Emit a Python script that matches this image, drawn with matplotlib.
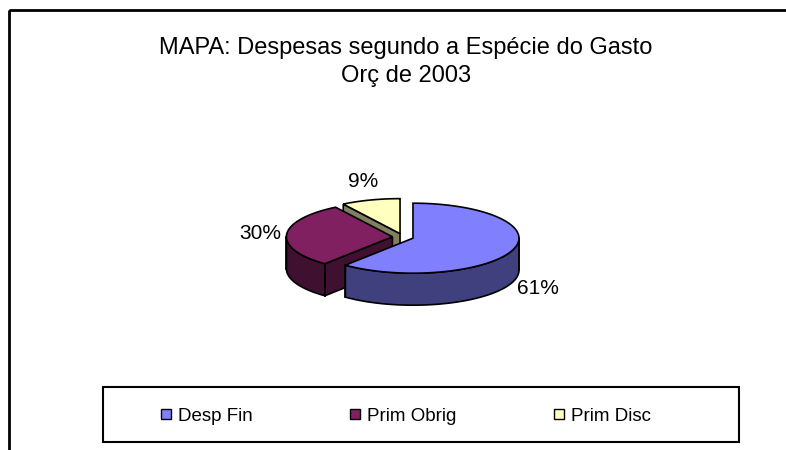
import numpy as np
import matplotlib.pyplot as plt
from matplotlib.patches import Polygon, Rectangle
from matplotlib.lines import Line2D

plt.rcParams['font.family'] = ['Liberation Sans', 'DejaVu Sans']

categories = ['Desp Fin', 'Prim Obrig', 'Prim Disc']
shares = [61, 30, 9]
labels = ['61%', '30%', '9%']
top_colors = ['#8080FF', '#802060', '#FFFFC0']
side_colors = ['#40407F', '#401030', '#808060']

title = 'MAPA: Despesas segundo a Espécie do Gasto\nOrç de 2003'

# pie geometry (pixel space)
cx, cy = 403, 237
rx, ry = 106, 35
depth = 32
explode = 0.1


def pt(x0, y0, th, r=1.0, dz=0, sx=1.0, sy=1.0):
    return (x0 + r * sx * rx * np.cos(th), y0 - r * sy * ry * np.sin(th) + dz)


fig = plt.figure(figsize=(7.86, 4.5), dpi=100)
ax = fig.add_axes([0, 0, 1, 1])
ax.set_xlim(0, 786)
ax.set_ylim(450, 0)
ax.axis('off')

# outer frame
ax.add_patch(Rectangle((9, 10), 800, 460, fill=False, lw=2, ec='black'))

# slice angles: start at 12 o'clock, go clockwise
total = sum(shares)
bounds = []
a = np.pi / 2
for s in shares:
    b = a - 2 * np.pi * s / total
    bounds.append((b, a))  # ccw from b to a
    a = b

order = sorted(range(len(shares)), key=lambda i: -np.sin(sum(bounds[i]) / 2))
for i in order:
    t0, t1 = bounds[i]
    mid = (t0 + t1) / 2
    ox, oy = pt(cx, cy, mid, explode)
    ec = 'black'
    # radial faces
    for th, nrm in ((t0, t0 - np.pi / 2), (t1, t1 + np.pi / 2)):
        if np.sin(nrm) < -1e-6:
            p1 = pt(ox, oy, th)
            face = [(ox, oy), p1, (p1[0], p1[1] + depth), (ox, oy + depth)]
            ax.add_patch(Polygon(face, closed=True, fc=side_colors[i], ec=ec, lw=1.2))
    # outer wall (front half only)
    ths = np.linspace(t0, t1, 300)
    front = ths[np.sin(ths) <= 0]
    if len(front) > 1:
        top = [pt(ox, oy, t) for t in front]
        bot = [(x, y + depth) for x, y in top[::-1]]
        ax.add_patch(Polygon(top + bot, closed=True, fc=side_colors[i], ec=ec, lw=1.2))
        for t in (front[0], front[-1]):
            x, y = pt(ox, oy, t)
            ax.plot([x, x], [y, y + depth], color=ec, lw=1.2)
    # top face
    arc = [pt(ox, oy, t) for t in ths]
    ax.add_patch(Polygon([(ox, oy)] + arc, closed=True, fc=top_colors[i], ec=ec, lw=1.2))

# percentage labels
for i, lab in enumerate(labels):
    t0, t1 = bounds[i]
    mid = (t0 + t1) / 2
    lx, ly = pt(cx, cy, mid, 1.0, sx=1.35, sy=1.65)
    if np.sin(mid) < 0:
        ly += depth
    ax.text(lx, ly, lab, fontsize=15, ha='center', va='center')

ax.text(406, 62, title, fontsize=17, ha='center', va='center', linespacing=1.35)

# legend
ax.add_patch(Rectangle((103, 387), 636, 55, fill=False, lw=1.5, ec='black'))
handles = [Line2D([], [], ls='none', marker='s', ms=6.5, mfc=c, mec='black', mew=1)
           for c in top_colors]
ax.legend(handles, categories, ncol=3, loc='center', bbox_to_anchor=(406, 416),
          bbox_transform=ax.transData, frameon=False, fontsize=13.5,
          handlelength=0.55, handletextpad=0.35, columnspacing=5.2)

fig.savefig('out.png', dpi=100)
